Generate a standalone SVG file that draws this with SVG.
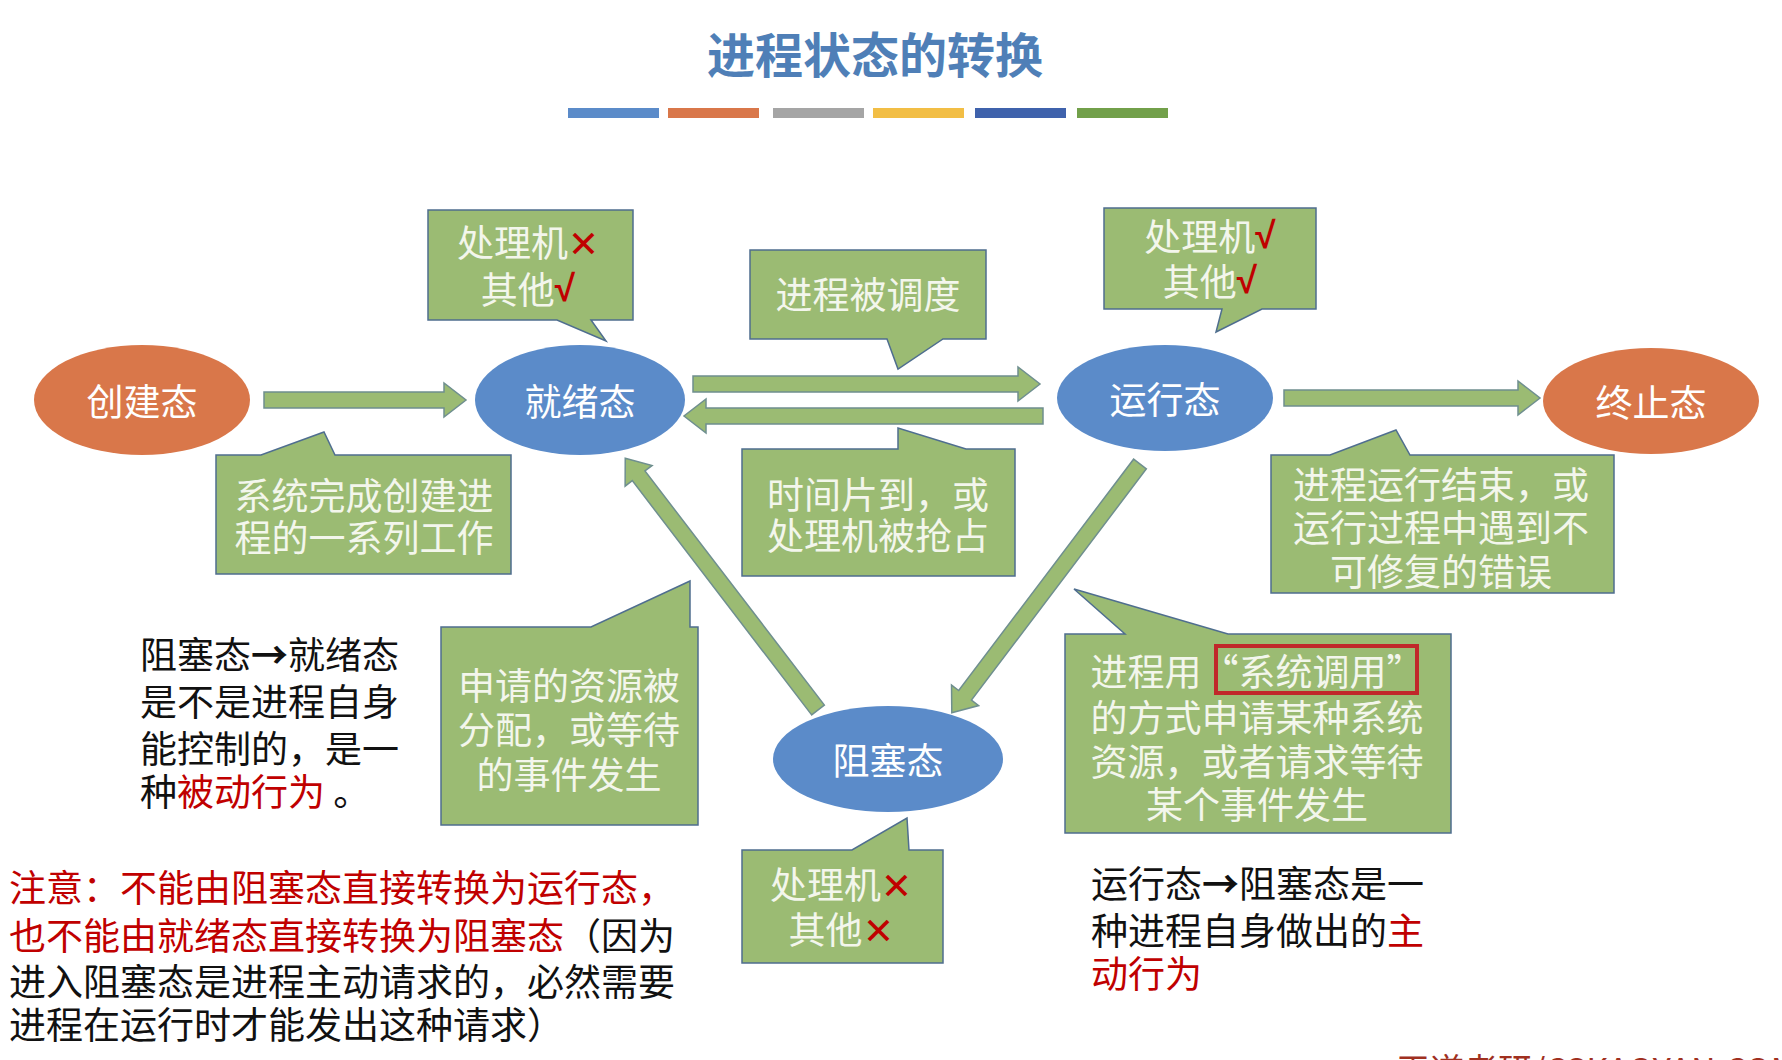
<svg xmlns="http://www.w3.org/2000/svg" width="1782" height="1060" viewBox="0 0 1782 1060">
<style>
text{font-family:"Noto Sans CJK SC","Noto Sans",sans-serif;dominant-baseline:central}
.st{fill:#fff;font-size:37px;text-anchor:middle}
.co{fill:#9BBB73;stroke:#4F6E8F;stroke-width:1.5}
.ct{fill:#F3F6EC;font-size:37px;text-anchor:middle}
.ar{fill:#9BBB73;stroke:#6F8F8F;stroke-width:1.5}
.bk{fill:#111;font-size:37px}
.r{fill:#C00000}
.ck{font-family:"Liberation Sans",sans-serif;font-weight:bold}
</style>
<rect width="1782" height="1060" fill="#fff"/>
<text x="875" y="52" font-size="48" fill="#4F7FB7" text-anchor="middle" font-weight="bold">进程状态的转换</text>
<rect x="568" y="108" width="91" height="10" fill="#5B8BC9"/>
<rect x="668" y="108" width="91" height="10" fill="#D9774A"/>
<rect x="773" y="108" width="91" height="10" fill="#A5A5A5"/>
<rect x="873" y="108" width="91" height="10" fill="#F2BE45"/>
<rect x="975" y="108" width="91" height="10" fill="#3F62AC"/>
<rect x="1077" y="108" width="91" height="10" fill="#72A04A"/>

<g id="connectors">
<polygon class="ar" transform="translate(264,400)" points="0,-8 180,-8 180,-17 202,0 180,17 180,8 0,8"/>
<polygon class="ar" transform="translate(693,384)" points="0,-8 325,-8 325,-17 347,0 325,17 325,8 0,8"/>
<polygon class="ar" transform="translate(1043,416) rotate(180)" points="0,-8 337,-8 337,-17 359,0 337,17 337,8 0,8"/>
<polygon class="ar" transform="translate(1284,398)" points="0,-8 234,-8 234,-17 256,0 234,17 234,8 0,8"/>
<polygon class="ar" transform="translate(1140,464) rotate(127.1)" points="0,-8 290,-8 290,-17 312,0 290,17 290,8 0,8"/>
<polygon class="ar" transform="translate(818,710) rotate(-127.45)" points="0,-8 295,-8 295,-17 317,0 295,17 295,8 0,8"/>
</g>

<g id="create"><ellipse cx="142" cy="400" rx="108" ry="55" fill="#D9774A"/><text class="st" x="142" y="400">创建态</text></g>
<g id="ready"><ellipse cx="580" cy="400" rx="105" ry="55" fill="#5B8BC9"/><text class="st" x="580" y="400">就绪态</text></g>
<g id="running"><ellipse cx="1165" cy="398" rx="108" ry="53" fill="#5B8BC9"/><text class="st" x="1165" y="398">运行态</text></g>
<g id="terminated"><ellipse cx="1651" cy="401" rx="108" ry="53" fill="#D9774A"/><text class="st" x="1651" y="401">终止态</text></g>
<g id="blocked"><ellipse cx="888" cy="759" rx="115" ry="53" fill="#5B8BC9"/><text class="st" x="888" y="759">阻塞态</text></g>

<g id="c1"><path class="co" d="M428,210H633V320H591L606,341L557,320H428Z"/>
<text class="ct" x="528" y="241">处理机<tspan class="r">✕</tspan></text><text class="ct" x="528" y="288">其他<tspan class="r ck">√</tspan></text></g>
<g id="c2"><path class="co" d="M750,250H986V339H943L898,369L887,339H750Z"/>
<text class="ct" x="868" y="293">进程被调度</text></g>
<g id="c3"><path class="co" d="M1104,208H1316V309H1262L1216,332L1222,309H1104Z"/>
<text class="ct" x="1210" y="235">处理机<tspan class="r ck">√</tspan></text><text class="ct" x="1210" y="280">其他<tspan class="r ck">√</tspan></text></g>
<g id="c4"><path class="co" d="M216,455H261L324,432L335,455H511V574H216Z"/>
<text class="ct" x="364" y="494">系统完成创建进</text><text class="ct" x="364" y="536">程的一系列工作</text></g>
<g id="c5"><path class="co" d="M742,449H898V428L966,449H1015V576H742Z"/>
<text class="ct" x="878" y="493">时间片到，或</text><text class="ct" x="878" y="534">处理机被抢占</text></g>
<g id="c6"><path class="co" d="M1271,455H1330L1396,430L1410,455H1614V593H1271Z"/>
<text class="ct" x="1441" y="483">进程运行结束，或</text><text class="ct" x="1441" y="526">运行过程中遇到不</text><text class="ct" x="1441" y="570">可修复的错误</text></g>
<g id="c7"><path class="co" d="M441,627H591L690,581V627H698V825H441Z"/>
<text class="ct" x="569" y="684">申请的资源被</text><text class="ct" x="569" y="728">分配，或等待</text><text class="ct" x="569" y="773">的事件发生</text></g>
<g id="c8"><path class="co" d="M1065,634H1125L1074,589L1228,634H1451V833H1065Z"/>
<rect x="1216" y="646" width="201" height="47" fill="none" stroke="#C0282A" stroke-width="4"/>
<text class="ct" x="1257" y="670">进程用“系统调用”</text><text class="ct" x="1257" y="716">的方式申请某种系统</text><text class="ct" x="1257" y="760">资源，或者请求等待</text><text class="ct" x="1257" y="803">某个事件发生</text></g>
<g id="c9"><path class="co" d="M742,850H852L907,818L909,850H943V963H742Z"/>
<text class="ct" x="841" y="883">处理机<tspan class="r">✕</tspan></text><text class="ct" x="841" y="928">其他<tspan class="r">✕</tspan></text></g>

<g id="notes">
<text class="bk" x="140" y="653">阻塞态<tspan font-weight="bold">→</tspan>就绪态</text>
<text class="bk" x="140" y="700">是不是进程自身</text>
<text class="bk" x="140" y="747">能控制的，是一</text>
<text class="bk" x="140" y="790">种<tspan class="r">被动行为</tspan> 。</text>
<text class="bk r" x="9" y="886">注意：不能由阻塞态直接转换为运行态，</text>
<text class="bk" x="9" y="934"><tspan class="r">也不能由就绪态直接转换为阻塞态</tspan>（因为</text>
<text class="bk" x="9" y="980">进入阻塞态是进程主动请求的，必然需要</text>
<text class="bk" x="9" y="1023">进程在运行时才能发出这种请求）</text>
<text class="bk" x="1091" y="882">运行态<tspan font-weight="bold">→</tspan>阻塞态是一</text>
<text class="bk" x="1091" y="929">种进程自身做出的<tspan class="r">主</tspan></text>
<text class="bk r" x="1091" y="972">动行为</text>
<text x="1396" y="1068" font-size="34" fill="#A0301F">王道考研/CSKAOYAN.COM</text>
</g>
</svg>
